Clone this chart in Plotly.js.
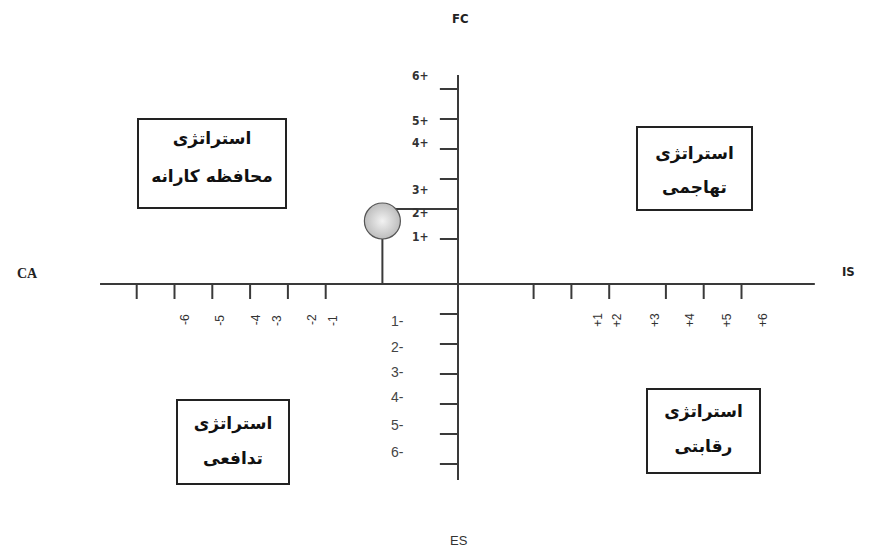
<!DOCTYPE html>
<html><head><meta charset="utf-8">
<script src="https://cdn.plot.ly/plotly-3.0.1.min.js"></script>
<style>html,body{margin:0;padding:0;background:#fff}</style>
</head><body>
<div id="chart" style="width:870px;height:554px"></div>
<script>
// ---- data ----
const xAxisEnds = [-9.47, 9.44];
const yAxisEnds = [-6.53, 6.97];
const xTicksNeg = [-8.5, -7.5, -6.5, -5.5, -4.5, -3.5];
const xTicksPos = [2, 3, 4, 5.5, 6.5, 7.5];
const yTicksPos = [6.5, 5.5, 4.5, 3.5, 2.5, 1.5];
const yTicksNeg = [-1, -2, -3, -4, -5, -6];
const xLabelsNeg = ["-6", "-5", "-4", "-3", "-2", "-1"];
const xLabelAtNeg = [-7.22, -6.30, -5.34, -4.79, -3.86, -3.31];
const xLabelsPos = ["+1", "+2", "+3", "+4", "+5", "+6"];
const xLabelAtPos = [3.70, 4.21, 5.21, 6.14, 7.12, 8.07];
const yLabelsPos = ["6+", "5+", "4+", "3+", "2+", "1+"];
const yLabelAtPos = [6.93, 5.43, 4.70, 3.13, 2.37, 1.57];
const yLabelsNeg = ["1-", "2-", "3-", "4-", "5-", "6-"];
const yLabelAtNeg = [-1.23, -2.10, -2.93, -3.77, -4.70, -5.60];
const pointX = [-2];
const pointY = [2.1];
const guideY = 2.5;
const axisNames = {top: "FC", bottom: "ES", left: "CA", right: "IS"};
const quadTitle = ["استراتژی", "استراتژی", "استراتژی", "استراتژی"];
const quadName = ["محافظه کارانه", "تهاجمی", "تدافعی", "رقابتی"];

// ---- helpers ----
const W = 870, H = 554, OX = 458, OY = 284, UX = 37.8, UY = 30;
const px = v => v / W, py = v => 1 - v / H;
const dx = v => (v - OX) / UX, dy = v => (OY - v) / UY;
const tickLenX = 0.5, tickLenY = 0.48;
function tickPath(vals, horizontal) {
  const xs = [], ys = [];
  vals.forEach(t => {
    if (horizontal) { xs.push(t, t, null); ys.push(0, -tickLenX, null); }
    else { xs.push(0, -tickLenY, null); ys.push(t, t, null); }
  });
  return {xs, ys};
}
const axCol = '#3a3a3a';
const tx = tickPath(xTicksNeg.concat(xTicksPos), true);
const ty = tickPath(yTicksPos.concat(yTicksNeg), false);

const traces = [
  {x: xAxisEnds, y: [0, 0], mode: 'lines', line: {color: axCol, width: 2}, hoverinfo: 'skip'},
  {x: [0, 0], y: yAxisEnds, mode: 'lines', line: {color: axCol, width: 2}, hoverinfo: 'skip'},
  {x: tx.xs, y: tx.ys, mode: 'lines', line: {color: axCol, width: 2}, hoverinfo: 'skip'},
  {x: ty.xs, y: ty.ys, mode: 'lines', line: {color: axCol, width: 2}, hoverinfo: 'skip'},
  {x: [pointX[0], pointX[0]], y: [pointY[0], 0], mode: 'lines', line: {color: axCol, width: 2}, hoverinfo: 'skip'},
  {x: [pointX[0], 0], y: [guideY, guideY], mode: 'lines', line: {color: axCol, width: 2}, hoverinfo: 'skip'},
  {x: pointX, y: pointY, mode: 'markers',
   marker: {size: 36, color: '#bdbdbd', gradient: {type: 'radial', color: '#f2f2f2'},
            line: {color: '#555', width: 1.2}}}
];

const ann = [];
const labFont = {family: 'Liberation Sans, Arial', size: 12, color: '#333'};
xLabelsNeg.forEach((t, i) => ann.push({x: xLabelAtNeg[i], y: -1.2, text: t, textangle: -90, showarrow: false,
  xanchor: 'center', yanchor: 'middle', font: labFont}));
xLabelsPos.forEach((t, i) => ann.push({x: xLabelAtPos[i], y: -1.2, text: t, textangle: -90, showarrow: false,
  xanchor: 'center', yanchor: 'middle', font: labFont}));
yLabelsPos.forEach((t, i) => ann.push({x: -0.98, y: yLabelAtPos[i], text: '<b>' + t + '</b>', showarrow: false,
  xanchor: 'center', yanchor: 'middle', font: {family: 'DejaVu Sans Condensed, DejaVu Sans', size: 12, color: '#333'}}));
yLabelsNeg.forEach((t, i) => ann.push({x: -1.59, y: yLabelAtNeg[i], text: t, showarrow: false,
  xanchor: 'center', yanchor: 'middle', font: {family: 'Liberation Sans, Arial', size: 14, color: '#444'}}));

const nameFont = {family: 'DejaVu Sans Condensed, DejaVu Sans', size: 13, color: '#222'};
const nm = (x, y, text, font) => ann.push({xref: 'paper', yref: 'paper', x: px(x), y: py(y), text, showarrow: false,
  xanchor: 'center', yanchor: 'middle', font});
nm(460, 18, '<b>' + axisNames.top + '</b>', nameFont);
nm(459, 540, axisNames.bottom, {family: 'Liberation Sans, Arial', size: 13, color: '#333'});
nm(27, 273, '<b>' + axisNames.left + '</b>', {family: 'Liberation Serif, Times New Roman', size: 14, color: '#222'});
nm(848, 271, '<b>' + axisNames.right + '</b>', nameFont);

// quadrant boxes: [left, top, right, bottom] in pixels, plus line centres
const boxes = [
  {b: [138, 119, 286, 208], y1: 140, y2: 178},
  {b: [637, 127, 752, 210], y1: 155, y2: 189},
  {b: [177, 400, 289, 484], y1: 425, y2: 460},
  {b: [647, 389, 760, 473], y1: 413, y2: 448}
];
const shapes = [];
const qx = [], qy = [], qt = [];
boxes.forEach((bx, i) => {
  const [l, t, r, b] = bx.b;
  shapes.push({type: 'rect', xref: 'paper', yref: 'paper', x0: px(l), x1: px(r), y0: py(b), y1: py(t),
    line: {color: '#222', width: 2}, fillcolor: 'rgba(0,0,0,0)'});
  const cx = dx((l + r) / 2);
  qx.push(cx, cx); qy.push(dy(bx.y1), dy(bx.y2));
  qt.push('<b>' + quadTitle[i] + '</b>', '<b>' + quadName[i] + '</b>');
});
traces.push({x: qx, y: qy, text: qt, mode: 'text', textposition: 'middle center',
  textfont: {family: 'DejaVu Sans, Noto Sans', size: 17, color: '#111'}, hoverinfo: 'skip'});

const layout = {
  width: W, height: H,
  margin: {l: 0, r: 0, t: 0, b: 0},
  paper_bgcolor: '#fff', plot_bgcolor: '#fff',
  showlegend: false,
  xaxis: {range: [-OX / UX, (W - OX) / UX], visible: false, fixedrange: true},
  yaxis: {range: [-(H - OY) / UY, OY / UY], visible: false, fixedrange: true},
  annotations: ann,
  shapes: shapes
};
Plotly.newPlot('chart', traces, layout, {staticPlot: true});
</script>
</body></html>
